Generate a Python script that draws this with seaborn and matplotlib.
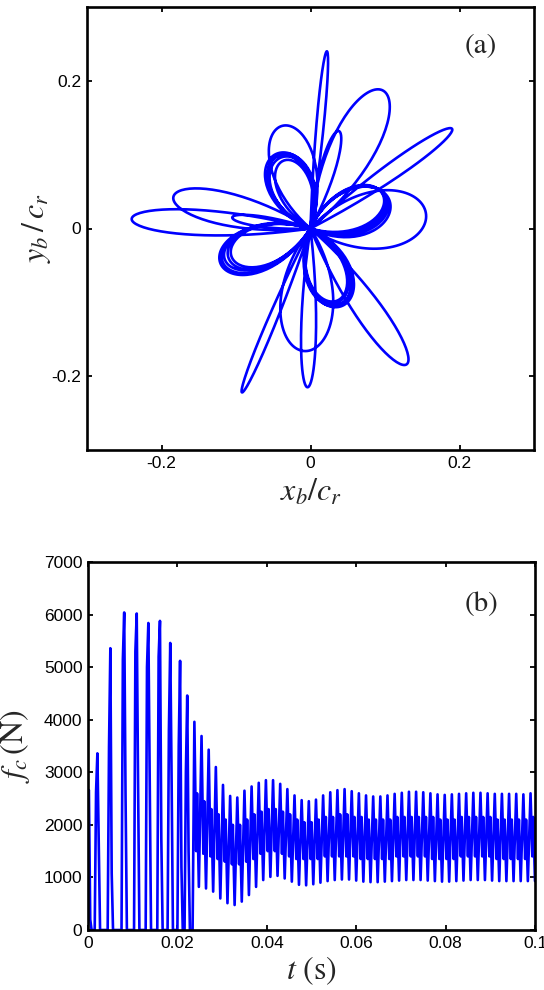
import numpy as np
import pandas as pd
import matplotlib
matplotlib.use("Agg")
import matplotlib.pyplot as plt
import seaborn as sns

# ---------------- Panel (a): orbit, petal loops (tip x, tip y, half-width) ----------------
petal_tip_x = [0.022, -0.092, -0.004, -0.240, -0.184, 0.097, 0.190, 0.038, 0.155, 0.129, -0.008, -0.038, -0.105]
petal_tip_y = [0.240, -0.222, -0.215, 0.013, 0.043, 0.187, 0.135, 0.132, 0.020, -0.184, -0.166, 0.139, 0.015]
petal_half_width = [0.005, 0.006, 0.010, 0.017, 0.022, 0.030, 0.011, 0.010, 0.040, 0.018, 0.036, 0.030, 0.007]

# repeated four-petal settled orbit (up-left, right, down, left) x 5 turns
flower_tip_x = [-0.042, 0.101, 0.038, -0.110,
                -0.044, 0.099, 0.040, -0.115,
                -0.040, 0.103, 0.036, -0.118,
                -0.046, 0.097, 0.042, -0.106,
                -0.036, 0.106, 0.035, -0.121]
flower_tip_y = [0.100, 0.042, -0.104, -0.040,
                0.098, 0.044, -0.102, -0.042,
                0.096, 0.040, -0.100, -0.045,
                0.101, 0.046, -0.105, -0.038,
                0.092, 0.038, -0.098, -0.047]
flower_half_width = [0.030, 0.030, 0.030, 0.029,
                     0.028, 0.029, 0.029, 0.028,
                     0.029, 0.031, 0.028, 0.030,
                     0.031, 0.028, 0.031, 0.027,
                     0.023, 0.033, 0.026, 0.031]

# ---------------- Panel (b): contact force f_c(t) ----------------
# early impacts (force returns to zero between them)
spike_t = [0.0002, 0.0021, 0.0050, 0.0081, 0.0109, 0.0135, 0.0161, 0.0184, 0.0206, 0.0222]
spike_peak = [2660, 3360, 5360, 6040, 6020, 5840, 5880, 5460, 5120, 4460]
spike_rise = [2600, 2620, 3480, 5150, 5300, 5000, 5200, 3800, 3500, 3000]
spike_fall = [200, 1640, 1080, 2550, 2800, 2800, 1750, 2900, 1200, 1500]

# continuous-contact cycles
cycle_t = [0.0238, 0.0254, 0.0270, 0.0286, 0.0302, 0.0318, 0.0334, 0.0350, 0.0366, 0.0382,
           0.0398, 0.0414, 0.0430, 0.0446, 0.0462, 0.0478, 0.0494, 0.0510, 0.0526, 0.0542,
           0.0558, 0.0574, 0.0590, 0.0606, 0.0622, 0.0638, 0.0654, 0.0670, 0.0686, 0.0702,
           0.0718, 0.0734, 0.0750, 0.0766, 0.0782, 0.0798, 0.0814, 0.0830, 0.0846, 0.0862,
           0.0878, 0.0894, 0.0910, 0.0926, 0.0942, 0.0958, 0.0974, 0.0990, 0.1006]
cycle_peak = [3960, 3690, 3430, 3100, 2760, 2550, 2520, 2650, 2730, 2800,
              2850, 2850, 2780, 2680, 2560, 2470, 2450, 2480, 2560, 2620,
              2660, 2680, 2640, 2600, 2560, 2540, 2540, 2560, 2590, 2610,
              2630, 2630, 2620, 2600, 2580, 2570, 2580, 2590, 2600, 2610,
              2610, 2600, 2590, 2590, 2590, 2590, 2580, 2600, 2600]
cycle_dip = [1500, 1450, 1400, 1350, 1300, 1250, 1250, 1300, 1350, 1450,
             1500, 1500, 1450, 1400, 1350, 1350, 1350, 1350, 1400, 1400,
             1400, 1400, 1400, 1350, 1350, 1350, 1350, 1350, 1400, 1400,
             1400, 1400, 1400, 1350, 1350, 1350, 1350, 1400, 1400, 1400,
             1400, 1400, 1350, 1350, 1350, 1350, 1350, 1400, 1400]
cycle_bump = [2600, 2450, 2300, 2200, 2100, 2000, 2000, 2100, 2200, 2250,
              2300, 2300, 2250, 2200, 2100, 2050, 2050, 2100, 2150, 2150,
              2200, 2200, 2150, 2150, 2100, 2100, 2100, 2100, 2150, 2150,
              2150, 2150, 2150, 2150, 2100, 2100, 2100, 2150, 2150, 2150,
              2150, 2150, 2100, 2100, 2100, 2100, 2100, 2150, 2150]
cycle_trough = [820, 790, 730, 600, 510, 475, 540, 665, 820, 950,
                1010, 1030, 980, 920, 860, 850, 870, 900, 930, 950,
                960, 960, 940, 920, 910, 910, 920, 930, 940, 950,
                950, 950, 940, 930, 920, 920, 930, 940, 950, 950,
                950, 940, 930, 930, 930, 930, 930, 930, 930]

xy_ticks = [-0.2, 0, 0.2]
xy_ticklabels = ["-0.2", "0", "0.2"]
t_ticks = [0, 0.02, 0.04, 0.06, 0.08, 0.1]
t_ticklabels = ["0", "0.02", "0.04", "0.06", "0.08", "0.1"]
f_ticks = [0, 1000, 2000, 3000, 4000, 5000, 6000, 7000]

# ---------------- build drawable paths ----------------
def petal(tx, ty, w, n=90):
    L = np.hypot(tx, ty)
    ang = np.arctan2(ty, tx)
    alpha = w / (0.56 * L)
    s = np.linspace(0, np.pi, n)
    r = L * np.sin(s)
    phi = ang + alpha * (s - np.pi / 2)
    return r * np.cos(phi), r * np.sin(phi)

ox, oy = [], []
for tx, ty, w in zip(petal_tip_x + flower_tip_x,
                     petal_tip_y + flower_tip_y,
                     petal_half_width + flower_half_width):
    px, py = petal(tx, ty, w)
    ox.extend(px); oy.extend(py)
orbit = pd.DataFrame({"x": ox, "y": oy, "order": np.arange(len(ox))})

ft, fv = [], []
for t, pk, ri, fa in zip(spike_t, spike_peak, spike_rise, spike_fall):
    ft += [t - 0.0006, t - 0.0003, t, t + 0.0003, t + 0.0006]
    fv += [0, ri, pk, fa, 0]
ft.append(cycle_t[0] - 0.0004); fv.append(0)
for t, pk, dp, bp, tr in zip(cycle_t, cycle_peak, cycle_dip, cycle_bump, cycle_trough):
    ft += [t, t + 0.0004, t + 0.0006, t + 0.0010]
    fv += [pk, dp, bp, tr]
force = pd.DataFrame({"t": ft, "f": fv})

# ---------------- figure ----------------
sns.set_theme(style="white")
plt.rcParams["font.family"] = ["Liberation Sans", "DejaVu Sans"]
plt.rcParams["mathtext.fontset"] = "stix"

fig = plt.figure(figsize=(5.44, 9.90), dpi=100)
axa = fig.add_axes([87 / 544, 1 - 450 / 990, 447 / 544, 443 / 990])
axb = fig.add_axes([88 / 544, 1 - 930 / 990, 447 / 544, 368 / 990])

blue = "#0000FF"
sns.lineplot(data=orbit, x="x", y="y", sort=False, estimator=None,
             color=blue, linewidth=1.9, ax=axa)
sns.lineplot(data=force, x="t", y="f", sort=False, estimator=None,
             color=blue, linewidth=1.9, ax=axb)

serif = ["STIXGeneral", "Liberation Serif", "DejaVu Serif"]
for ax in (axa, axb):
    for sp in ax.spines.values():
        sp.set_visible(True)
        sp.set_color("black")
        sp.set_linewidth(1.9)
    ax.tick_params(direction="in", length=3.5, width=1.3, colors="black",
                   labelsize=12.5, top=True, right=True, bottom=True, left=True,
                   pad=4)
    ax.grid(False)

axa.set_xlim(-0.3, 0.3)
axa.set_ylim(-0.3, 0.3)
axa.set_xticks(xy_ticks, xy_ticklabels)
axa.set_yticks(xy_ticks, xy_ticklabels)
axa.set_xlabel(r"$x_b/c_r$", fontsize=23, labelpad=5)
axa.set_ylabel(r"$y_b\,/\,c_r$", fontsize=23)
axa.yaxis.set_label_coords(-0.075, 0.5)
axa.text(0.88, 0.91, "(a)", transform=axa.transAxes, fontsize=21,
         family=serif, ha="center", va="center")

axb.set_xlim(0, 0.1)
axb.set_ylim(0, 7000)
axb.set_xticks(t_ticks, t_ticklabels)
axb.set_yticks(f_ticks, [str(v) for v in f_ticks])
axb.set_xlabel(r"$t\ (\mathrm{s})$", fontsize=23, labelpad=3)
axb.set_ylabel(r"$f_c\,(\mathrm{N})$", fontsize=23)
axb.yaxis.set_label_coords(-0.125, 0.5)
axb.text(0.88, 0.886, "(b)", transform=axb.transAxes, fontsize=21,
         family=serif, ha="center", va="center")

fig.savefig("out.png", dpi=100, facecolor="white")
